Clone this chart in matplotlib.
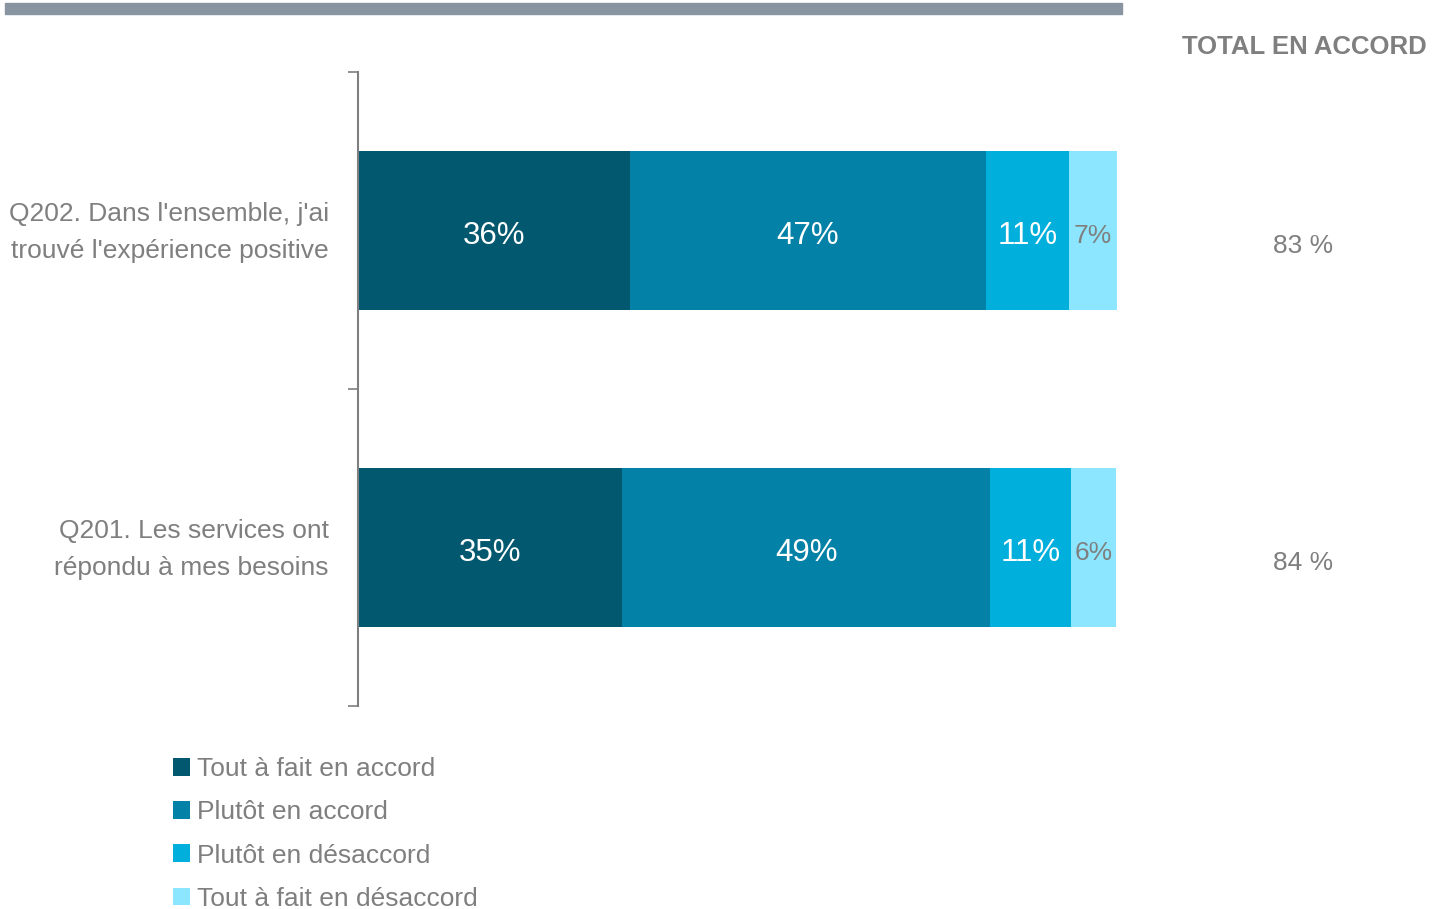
import matplotlib.pyplot as plt
from matplotlib.patches import Rectangle
import numpy as np

plt.rcParams['font.family'] = ['Liberation Sans', 'DejaVu Sans']

# data (bottom to top)
questions = ["Q201. Les services ont\nrépondu à mes besoins",
             "Q202. Dans l'ensemble, j'ai\ntrouvé l'expérience positive"]
series = ["Tout à fait en accord", "Plutôt en accord",
          "Plutôt en désaccord", "Tout à fait en désaccord"]
values = np.array([[35.1, 48.9, 10.8, 6.0],
                   [36.1, 47.4, 11.0, 6.4]])
value_labels = [["35%", "49%", "11%", "6%"],
                ["36%", "47%", "11%", "7%"]]
totals = ["84 %", "83 %"]

colors = ["#02586e", "#0481a6", "#00afdc", "#8ce6ff"]
text_colors = ["white", "white", "white", "#7f7f7f"]
grey = "#7f7f7f"

fig = plt.figure(figsize=(14.33, 9.09), dpi=100)
ax = fig.add_axes([358 / 1433, 203 / 909, 760 / 1433, 634 / 909])

y = np.arange(len(questions))
left = np.zeros(len(questions))
for j in range(len(series)):
    ax.barh(y, values[:, j], left=left, height=0.5, color=colors[j], label=series[j])
    for i in range(len(questions)):
        ax.text(left[i] + values[i, j] / 2, y[i] - 0.018, value_labels[i][j],
                ha='center', va='center', color=text_colors[j],
                fontsize=22.5 if j < 3 else 19)
    left += values[:, j]

for i in range(len(questions)):
    ax.text(125.6, y[i] - 0.05, totals[i], ha='center', va='center',
            color=grey, fontsize=19, clip_on=False)

ax.text(125.8, 1.5 + 0.08, "TOTAL EN ACCORD", ha='center', va='center',
        color=grey, fontsize=18.5, fontweight='bold', clip_on=False)

# question labels
for i in range(len(questions)):
    ax.text(-29 / 760, y[i] - 0.006, questions[i], transform=ax.get_yaxis_transform(),
            ha='right', va='center', color=grey, fontsize=19, linespacing=1.65)

ax.set_xlim(0, 101)
ax.set_ylim(-0.5, 1.5)
ax.set_yticks([])
ax.set_yticks([-0.5, 0.5, 1.5], minor=True)
ax.tick_params(axis='y', which='minor', length=7, width=1.2, color=grey)
ax.set_xticks([])
for s in ['top', 'right', 'bottom']:
    ax.spines[s].set_visible(False)
ax.spines['left'].set_color(grey)
ax.spines['left'].set_linewidth(1.5)

# grey band at the top
fig.patches.append(Rectangle((5 / 1433, 1 - 14 / 909), 1117 / 1433, 11 / 909,
                             transform=fig.transFigure, color="#8894a0"))

leg = ax.legend(loc='upper left', bbox_to_anchor=(173 / 1433, 1 - 757 / 909),
                bbox_transform=fig.transFigure, frameon=False, fontsize=19,
                handlelength=0.65, handleheight=0.65, handletextpad=0.27,
                labelspacing=0.73, borderaxespad=0, borderpad=0)
for t in leg.get_texts():
    t.set_color(grey)

fig.savefig("out.png", dpi=100)
